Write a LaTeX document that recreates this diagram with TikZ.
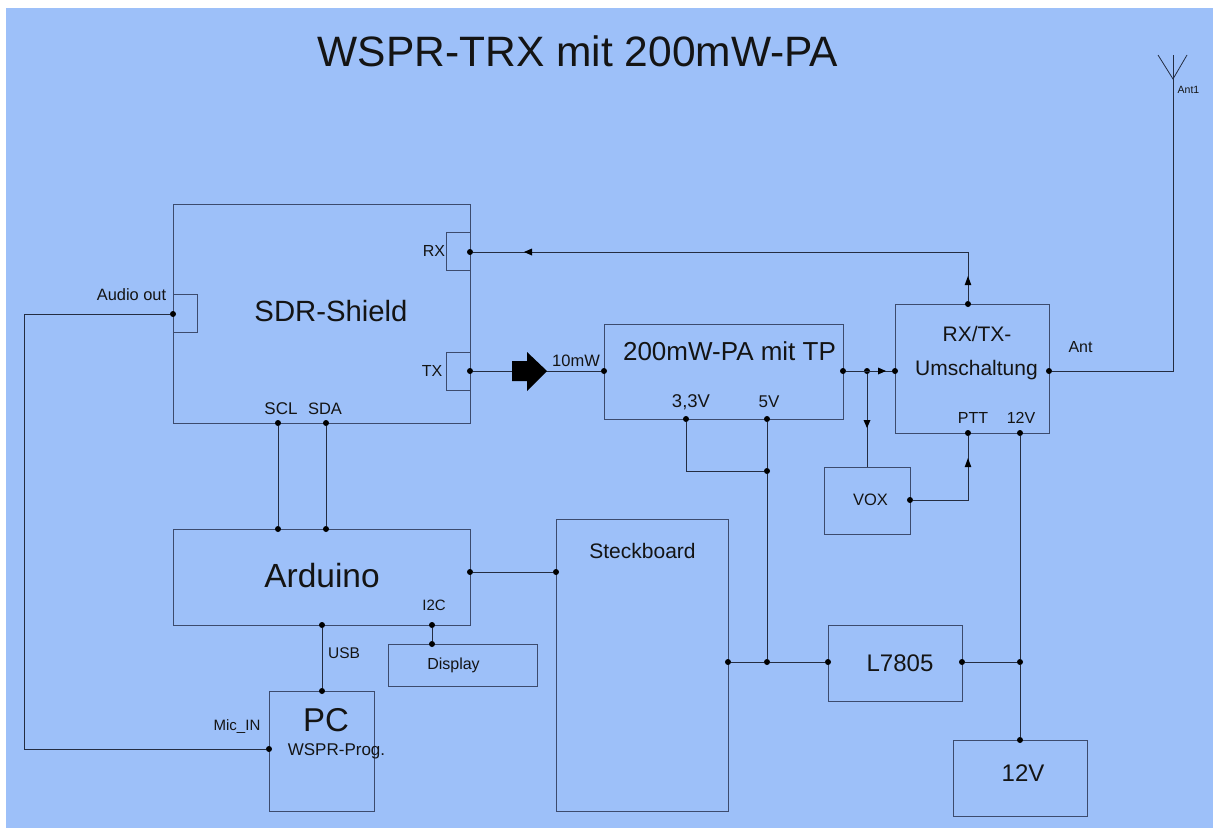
\documentclass[tikz,border=0pt]{standalone}
\usepackage{fontspec}
\setmainfont{Liberation Sans}
\definecolor{bgblue}{RGB}{157,192,249}
\definecolor{boxline}{RGB}{60,75,110}
\tikzset{
  block/.style={draw=boxline,line width=1.1pt,inner sep=0pt,anchor=north west},
  wire/.style={draw=boxline!60!black,line width=1pt},
  pin/.style={circle,fill=black,inner sep=0pt,minimum size=6pt},
  lbl/.style={inner sep=0pt,text=black!92},
  tipup/.style={fill=black},
}
\newcommand{\bx}[5]{\node[block,minimum width=#4pt,minimum height=#5pt] (#1) at (#2,#3) {};}
\newcommand{\pn}[3]{\node[pin] (#1) at (#2,#3) {};}
\newcommand{\tx}[4]{\node[lbl,font=\fontsize{#3pt}{#3pt}\selectfont] at (#1,#2) {#4};}
\begin{document}
\begin{tikzpicture}[x=1pt,y=-1pt]
\useasboundingbox (0,0) rectangle (1213,828);
\fill[white] (0,0) rectangle (1213,828);
\fill[bgblue] (6,8) rectangle (1213,828);
% blocks
\bx{sdr}{173}{204}{297}{219}
\bx{rxport}{446}{232}{24}{38}
\bx{txport}{446}{352}{24}{38}
\bx{audio}{173}{294}{24}{38}
\bx{pa}{604}{324}{239}{95}
\bx{sw}{895}{304}{154}{129}
\bx{vox}{824}{467}{86}{67}
\bx{ard}{173}{529}{297}{96}
\bx{disp}{388}{644}{149}{42}
\bx{pc}{269}{691}{105}{120}
\bx{steck}{556}{519}{172}{292}
\bx{reg}{828}{625}{134}{76}
\bx{bat}{953}{740}{134}{76}
% pins
\pn{pAudio}{173}{314}
\pn{pRXs}{470}{252}
\pn{pTXs}{470}{371}
\pn{pSCL}{278}{423}
\pn{pSDA}{326}{423}
\pn{pArdA}{278}{529}
\pn{pArdB}{326}{529}
\pn{pArdR}{470}{572}
\pn{pSteckL}{556}{572}
\pn{pUSB}{322}{625}
\pn{pI2C}{432}{625}
\pn{pDisp}{432}{644}
\pn{pPCt}{322}{691}
\pn{pMic}{269}{749}
\pn{pPAin}{604}{371}
\pn{pPAout}{843}{371}
\pn{pV33}{686}{419}
\pn{pV5}{767}{419}
\pn{pJ33}{767}{471}
\pn{pJ5}{767}{662}
\pn{pSteckR}{728}{662}
\pn{pRegL}{828}{662}
\pn{pRegR}{962}{662}
\pn{pJ12}{1020}{662}
\pn{pBat}{1020}{740}
\pn{pVoxTap}{867}{371}
\pn{pSWin}{895}{371}
\pn{pSWtop}{968}{304}
\pn{pSWout}{1049}{371}
\pn{pPTT}{968}{433}
\pn{p12V}{1020}{433}
\pn{pVox}{910}{500}
% free ends
\coordinate (cVox) at (867,467);
\coordinate (cAudioL) at (24,314);
\coordinate (cMicL) at (24,749);
\coordinate (cRXc) at (968,252);
\coordinate (c33) at (686,471);
\coordinate (cVoxC) at (968,500);
\coordinate (cAntC) at (1173,371);
\coordinate (cAntB) at (1173,79);
\coordinate (cAntL) at (1158,55);
\coordinate (cAntM) at (1173,55);
\coordinate (cAntR) at (1187,55);
% wires
\draw[wire] (pRXs) -- (cRXc) -- (pSWtop);
\draw[wire] (pTXs) -- (pPAin);
\draw[wire] (pAudio) -- (cAudioL) -- (cMicL) -- (pMic);
\draw[wire] (pSCL) -- (pArdA);
\draw[wire] (pSDA) -- (pArdB);
\draw[wire] (pArdR) -- (pSteckL);
\draw[wire] (pUSB) -- (pPCt);
\draw[wire] (pI2C) -- (pDisp);
\draw[wire] (pPAout) -- (pSWin);
\draw[wire] (pVoxTap) -- (cVox);
\draw[wire] (pVox) -- (cVoxC) -- (pPTT);
\draw[wire] (pSWout) -- (cAntC) -- (cAntB);
\draw[wire] (cAntM) -- (cAntB);
\draw[wire,line width=0.8pt] (cAntL) -- (cAntB) -- (cAntR);
\draw[wire] (pV33) -- (c33) -- (pJ33);
\draw[wire] (pV5) -- (pJ33) -- (pJ5);
\draw[wire] (pSteckR) -- (pJ5) -- (pRegL);
\draw[wire] (pRegR) -- (pJ12) -- (p12V);
\draw[wire] (pJ12) -- (pBat);
% small arrowheads
\fill[tipup] (968,276) -- (971.3,285) -- (964.7,285) -- cycle;
\fill[tipup] (524,252) -- (532,248.5) -- (532,255.5) -- cycle;
\fill[tipup] (886,371) -- (878,367.5) -- (878,374.5) -- cycle;
\fill[tipup] (867,428) -- (863.5,420) -- (870.5,420) -- cycle;
\fill[tipup] (968,458) -- (971.3,467) -- (964.7,467) -- cycle;
% big arrow
\fill[black] (512,361) -- (527,361) -- (527,352) -- (547,371) -- (527,391) -- (527,381) -- (512,381) -- cycle;
% texts
\tx{578}{51}{42.5}{WSPR-TRX mit 200mW-PA}
\tx{331}{311}{29.3}{SDR-Shield}
\tx{322}{576}{33.5}{Arduino}
\tx{729.5}{351}{26}{200mW-PA mit TP}
\tx{977}{334}{21}{RX/TX-}
\tx{976.5}{370}{21}{Umschaltung}
\tx{131.5}{295}{16.4}{Audio out}
\tx{434}{251}{16}{RX}
\tx{432}{371}{16}{TX}
\tx{281}{409}{17}{SCL}
\tx{325}{409}{16.5}{SDA}
\tx{576}{361}{16.5}{10mW}
\tx{691}{402}{18.5}{3,3V}
\tx{769}{402}{17}{5V}
\tx{1080.5}{347}{16}{Ant}
\tx{1188.5}{90}{10.5}{Ant1}
\tx{973}{418}{16}{PTT}
\tx{1021}{418}{16}{12V}
\tx{870.5}{500}{16.5}{VOX}
\tx{642.5}{551}{21}{Steckboard}
\tx{434}{605}{15}{I2C}
\tx{344}{653}{15.5}{USB}
\tx{453.5}{665}{16}{Display}
\tx{237}{727}{15}{Mic\_IN}
\tx{326}{720}{33}{PC}
\tx{336.5}{751}{17}{WSPR-Prog.}
\tx{900}{663}{24}{L7805}
\tx{1023}{773}{24}{12V}
\end{tikzpicture}
\end{document}
